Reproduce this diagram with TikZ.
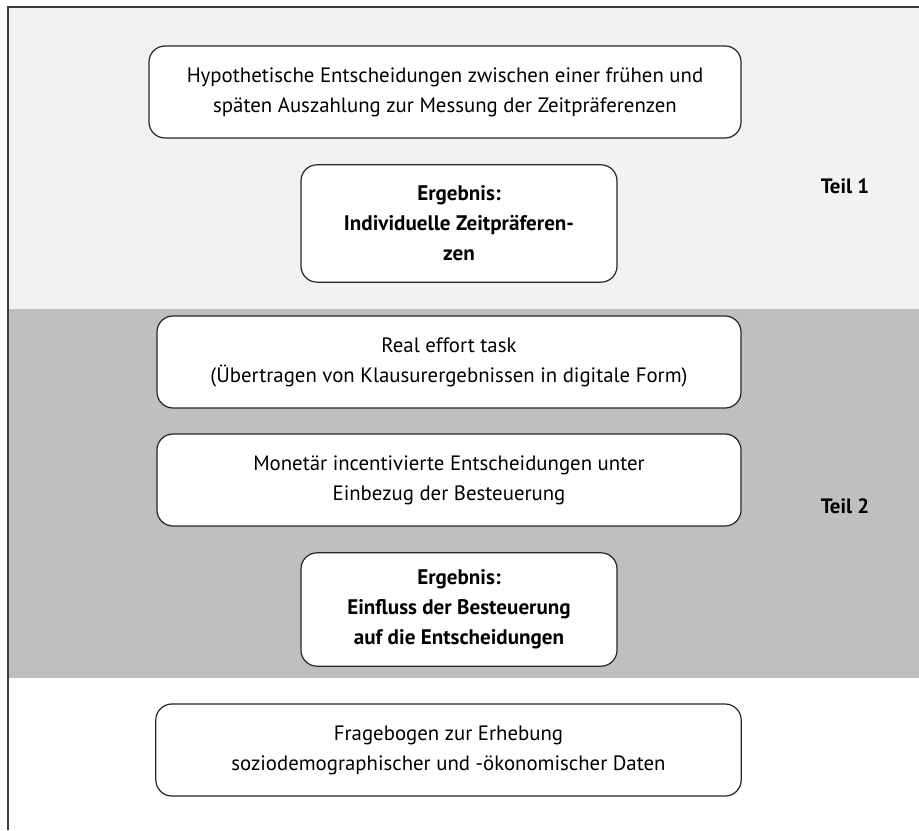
\documentclass[tikz,border=0pt]{standalone}
\usepackage{fontspec}
\setmainfont{PT Sans}
\definecolor{teilonegray}{HTML}{F2F2F2}
\definecolor{teiltwogray}{HTML}{BFBFBF}
\definecolor{framegray}{HTML}{3A3A3A}
\tikzset{
	stage/.style={draw=black!85, line width=0.9pt, rounded corners=12pt, fill=white,
		align=center, font=\fontsize{15.6}{22.5}\selectfont, inner sep=0pt},
	result/.style={stage, font=\fontsize{15.8}{22.5}\selectfont\bfseries},
	teil/.style={font=\fontsize{15.6}{22.5}\selectfont\bfseries},
}
\begin{document}
\begin{tikzpicture}[x=0.75pt, y=-0.75pt]
			\useasboundingbox (0,0) rectangle (919,830);
			% Hintergrund der beiden Teile
			\fill[teilonegray] (8,7.5) rectangle (919,309);
			\fill[teiltwogray] (8,309) rectangle (919,678);
			\draw[framegray, line width=1.5pt] (8,830) -- (8,7.5) -- (919,7.5);
			% Teil 1
			\node[stage, minimum width=444pt, minimum height=69pt] (hypo) at (445,92)
				{Hypothetische Entscheidungen zwischen einer frühen und\\sp\"aten Auszahlung zur Messung der Zeitpr\"aferenzen};
			\node[result, minimum width=237pt, minimum height=88pt] (ergzeit) at (459,223.5)
				{Ergebnis:\\Individuelle Zeitpr\"aferen-\\zen};
			\node[teil] (teilone) at (845,186) {Teil 1};
			% Teil 2
			\node[stage, minimum width=438pt, minimum height=69pt] (effort) at (449,362)
				{Real effort task\\(\"Ubertragen von Klausurergebnissen in digitale Form)};
			\node[stage, minimum width=438pt, minimum height=69pt] (monetaer) at (449,480)
				{Monet\"ar incentivierte Entscheidungen unter\\Einbezug der Besteuerung};
			\node[result, minimum width=237pt, minimum height=85pt] (ergsteuer) at (459,609.5)
				{Ergebnis:\\Einfluss der Besteuerung\\auf die Entscheidungen};
			\node[teil] (teiltwo) at (845,506) {Teil 2};
			% Fragebogen
			\node[stage, minimum width=439pt, minimum height=69pt] (frage) at (448.5,750)
				{Fragebogen zur Erhebung\\soziodemographischer und -\"okonomischer Daten};
		\end{tikzpicture}
\end{document}
